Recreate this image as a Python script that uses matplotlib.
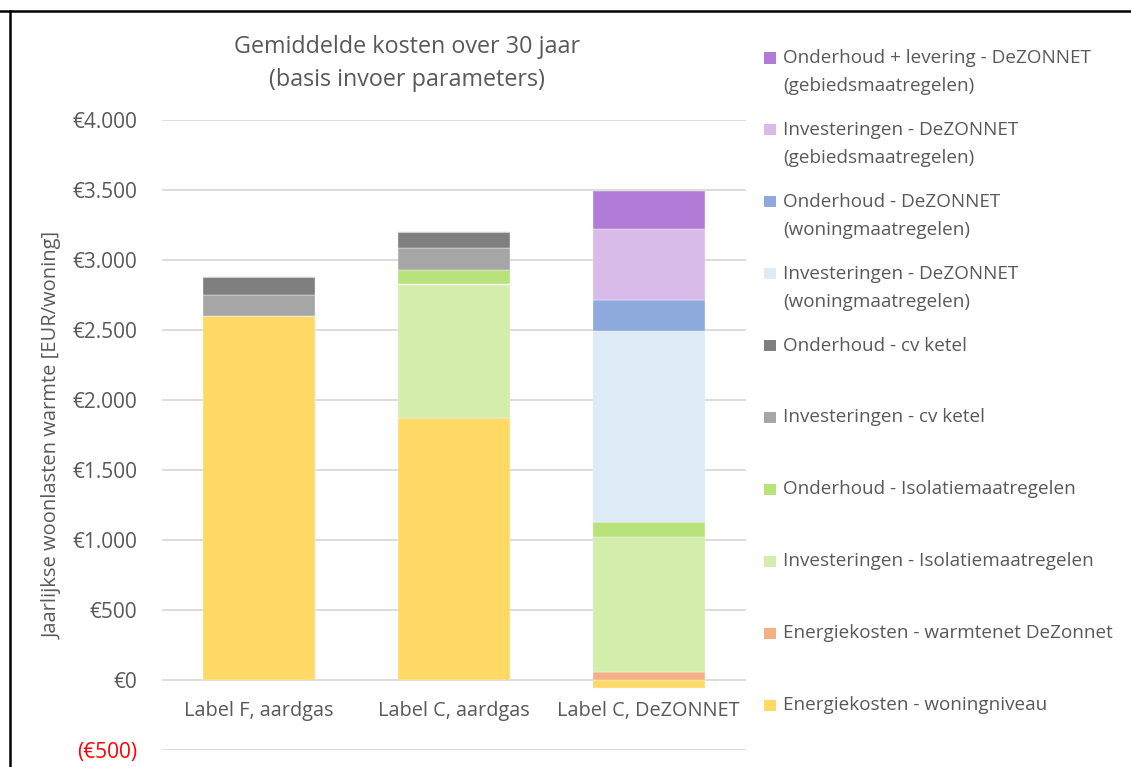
import matplotlib
matplotlib.use("Agg")
import matplotlib.pyplot as plt
import numpy as np
from matplotlib.lines import Line2D
from matplotlib.patches import Rectangle
from matplotlib.ticker import FuncFormatter, MultipleLocator

plt.rcParams['font.family'] = ['Open Sans', 'DejaVu Sans']

categories = ["Label F, aardgas", "Label C, aardgas", "Label C, DeZONNET"]

series_names = [
    "Energiekosten - woningniveau",
    "Energiekosten - warmtenet DeZonnet",
    "Investeringen - Isolatiemaatregelen",
    "Onderhoud - Isolatiemaatregelen",
    "Investeringen - cv ketel",
    "Onderhoud - cv ketel",
    "Investeringen - DeZONNET\n(woningmaatregelen)",
    "Onderhoud - DeZONNET\n(woningmaatregelen)",
    "Investeringen - DeZONNET\n(gebiedsmaatregelen)",
    "Onderhoud + levering - DeZONNET\n(gebiedsmaatregelen)",
]

energie_woning = [2600, 1870, -55]
energie_warmtenet = [0, 0, 60]
inv_isolatie = [0, 955, 964]
ond_isolatie = [0, 107, 105]
inv_cv = [150, 153, 0]
ond_cv = [125, 117, 0]
inv_dz_woning = [0, 0, 1364]
ond_dz_woning = [0, 0, 221]
inv_dz_gebied = [0, 0, 507]
ond_dz_gebied = [0, 0, 270]

series_values = [energie_woning, energie_warmtenet, inv_isolatie, ond_isolatie,
                 inv_cv, ond_cv, inv_dz_woning, ond_dz_woning, inv_dz_gebied, ond_dz_gebied]

colors = ["#FFD966", "#F4B084", "#D3EDAB", "#B8E27A", "#A6A6A6", "#7F7F7F",
          "#DDEBF7", "#8EA9DB", "#D8BBE8", "#B07CD8"]

title_lines = ["Gemiddelde kosten over 30 jaar", "(basis invoer parameters)"]
ylabel_text = "Jaarlijkse woonlasten warmte [EUR/woning]"

TXT = "#595959"
W, H = 1131, 767
fig = plt.figure(figsize=(W / 100, H / 100), dpi=100)
ax = fig.add_axes([161.5 / W, 17 / H, (746 - 161.5) / W, 630 / H])

x = np.arange(len(categories))
pos_base = np.zeros(len(categories))
neg_base = np.zeros(len(categories))
for vals, col in zip(series_values, colors):
    v = np.array(vals, dtype=float)
    bottoms = np.where(v >= 0, pos_base, neg_base)
    ax.bar(x, v, bottom=bottoms, width=0.575, color=col, edgecolor="#F4F4F4",
           linewidth=0.3, zorder=3)
    pos_base += np.where(v >= 0, v, 0)
    neg_base += np.where(v < 0, v, 0)

ax.set_xlim(-0.5, len(categories) - 0.5)
ax.set_ylim(-500, 4000)
ax.yaxis.set_major_locator(MultipleLocator(500))


def eur(v, _):
    s = f"{abs(v):,.0f}".replace(",", ".")
    return f"(€{s})" if v < 0 else f"€{s}"


ax.yaxis.set_major_formatter(FuncFormatter(eur))
ax.grid(axis="y", color="#D9D9D9", linewidth=1.3, zorder=0)
for sp in ax.spines.values():
    sp.set_visible(False)
ax.tick_params(axis="y", length=0, pad=17.6, labelsize=15, labelcolor=TXT)
ax.tick_params(axis="x", length=0, labelbottom=False)
fig.canvas.draw()
for lbl, v in zip(ax.get_yticklabels(), ax.get_yticks()):
    if v < 0:
        lbl.set_color("red")

for xi, cat in zip(x, categories):
    ax.annotate(cat, xy=(xi, 0), xytext=(0, -31), textcoords="offset pixels",
                ha="center", va="center", fontsize=14.3, color=TXT)

ax.set_ylabel(ylabel_text, fontsize=14.5, color=TXT, labelpad=7)
for i, line in enumerate(title_lines):
    fig.text(407 / W, 1 - (47 + 33 * i) / H, line, ha="center", va="center",
             fontsize=16.8, color=TXT)

# legend (top entry = last series)
leg_top = 58
step = 71.9
for i, (name, col) in enumerate(zip(series_names[::-1], colors[::-1])):
    yc = leg_top + i * step
    fig.add_artist(Rectangle((764 / W, 1 - (yc + 5.5) / H), 12 / W, 11 / H,
                             transform=fig.transFigure, color=col, lw=0))
    for j, part in enumerate(name.split("\n")):
        fig.text(783 / W, 1 - (yc + 28 * j) / H, part, ha="left", va="center",
                 fontsize=13.6, color=TXT)

# chart border
fig.add_artist(Line2D([0, 1], [1 - 11 / H, 1 - 11 / H], transform=fig.transFigure,
                      color="black", lw=1.8))
fig.add_artist(Line2D([9.5 / W, 9.5 / W], [0, 1 - 11 / H], transform=fig.transFigure,
                      color="black", lw=1.8))

fig.savefig("out.png", dpi=100)
